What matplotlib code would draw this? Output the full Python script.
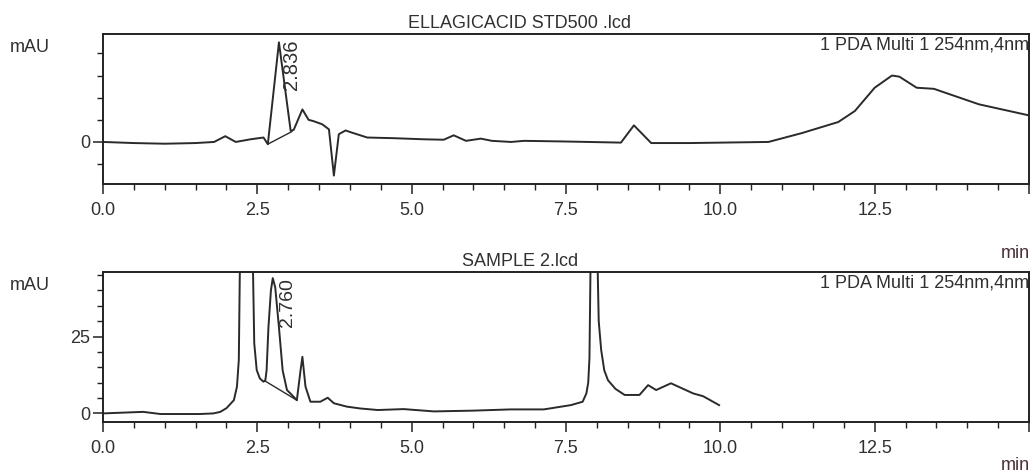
import matplotlib
matplotlib.use("Agg")
import matplotlib.pyplot as plt
from matplotlib.ticker import MultipleLocator, FixedLocator, FixedFormatter

plt.rcParams['font.family'] = ['Liberation Sans', 'DejaVu Sans']

# ---------------- data ----------------
std_title = "ELLAGICACID STD500 .lcd"
smp_title = "SAMPLE 2.lcd"
channel_label = "1 PDA Multi 1 254nm,4nm"

std_time = [0, 0.5, 1.0, 1.5, 1.8, 1.98, 2.15, 2.39, 2.6, 2.67, 2.85, 3.04, 3.09,
            3.23, 3.33, 3.41, 3.55, 3.66, 3.74, 3.82, 3.93, 4.0, 4.28, 4.71, 5.2,
            5.52, 5.68, 5.88, 6.12, 6.3, 6.61, 6.82, 7.5, 8.39, 8.6, 8.88, 9.5,
            10.78, 11.32, 11.91, 12.18, 12.5, 12.78, 12.9, 13.18, 13.46, 14.19, 15.0]
std_signal = [0, -0.05, -0.08, -0.05, 0, 0.26, 0, 0.12, 0.2, -0.1, 4.5, 0.5, 0.55,
              1.47, 1.0, 0.94, 0.8, 0.57, -1.52, 0.35, 0.52, 0.45, 0.2, 0.17, 0.12,
              0.1, 0.3, 0.05, 0.15, 0.05, 0, 0.05, 0.02, -0.03, 0.75, -0.05, -0.05,
              0, 0.4, 0.9, 1.4, 2.45, 3.0, 2.95, 2.45, 2.4, 1.7, 1.2]
std_base_time = [2.67, 3.06]
std_base_signal = [-0.1, 0.47]
std_peak_rt = 2.836
std_peak_label = "2.836"

smp_time = [0, 0.65, 0.93, 1.57, 1.79, 1.9, 2.0, 2.12, 2.17, 2.2, 2.23, 2.32,
            2.41, 2.45, 2.49, 2.54, 2.6, 2.63, 2.65, 2.68, 2.72, 2.75, 2.79,
            2.85, 2.91, 2.98, 3.06, 3.14, 3.2, 3.23, 3.28, 3.36, 3.52, 3.64,
            3.74, 3.95, 4.17, 4.45, 4.87, 5.36, 6.0, 6.6, 7.14, 7.58, 7.77,
            7.83, 7.86, 7.88, 7.91, 7.95, 7.99, 8.03, 8.07, 8.12, 8.18, 8.3,
            8.45, 8.69, 8.83, 8.96, 9.2, 9.56, 9.72, 9.98]
smp_signal = [0, 0.5, -0.2, -0.2, 0, 0.5, 1.7, 4.3, 8.7, 17.4, 70, 200,
              70, 22.8, 14.1, 11.4, 10.3, 10.8, 14, 28, 40, 44, 41,
              28, 14, 7.6, 6.0, 4.3, 14, 18.4, 8.7, 3.8, 3.8, 5.1,
              3.3, 2.2, 1.6, 1.1, 1.4, 0.65, 0.9, 1.3, 1.3, 2.7, 3.8,
              6.5, 10, 18, 70, 150, 70, 30, 20.6, 14, 10.8, 8,
              6.0, 6.0, 9.2, 7.6, 9.8, 6.5, 5.6, 2.7]
smp_base_time = [2.62, 3.14]
smp_base_signal = [10.6, 4.3]
smp_peak_rt = 2.76
smp_peak_label = "2.760"

x_major = [0.0, 2.5, 5.0, 7.5, 10.0, 12.5, 15.0]
x_major_labels = ["0.0", "2.5", "5.0", "7.5", "10.0", "12.5", ""]

# ---------------- figure ----------------
W, H = 1033, 476
fig = plt.figure(figsize=(W / 100, H / 100), dpi=100)

TXT = "#303030"
LINE = "#2a2a2a"
FS = 13

def make_axes(rect):
    ax = fig.add_axes(rect)
    for s in ax.spines.values():
        s.set_color("#222222")
        s.set_linewidth(1.4)
    ax.set_xlim(0, 15)
    ax.xaxis.set_major_locator(FixedLocator(x_major))
    ax.xaxis.set_major_formatter(FixedFormatter(x_major_labels))
    ax.xaxis.set_minor_locator(MultipleLocator(0.5))
    ax.tick_params(axis='both', which='major', direction='out', length=7, width=1.1,
                   color="#222222", labelsize=FS, labelcolor=TXT, pad=6)
    ax.tick_params(axis='both', which='minor', direction='out', length=4, width=1.0,
                   color="#222222")
    ax.tick_params(axis='y', which='major', pad=2)
    return ax

# top panel
ax1 = make_axes([103 / W, 1 - 184 / H, (1029 - 103) / W, (184 - 33.5) / H])
ax1.plot(std_time, std_signal, color=LINE, lw=1.4)
ax1.plot(std_base_time, std_base_signal, color=LINE, lw=1.0)
ax1.set_ylim(-1.9, 4.9)
ax1.yaxis.set_major_locator(FixedLocator([0]))
ax1.yaxis.set_major_formatter(FixedFormatter(["0"]))
ax1.yaxis.set_minor_locator(FixedLocator([-1, 1, 2, 3, 4]))
ax1.text(std_peak_rt + 0.22, 4.62, std_peak_label, rotation=90, ha='center', va='top',
         fontsize=14.5, color=TXT)
ax1.text(1.0, 0.923, channel_label, transform=ax1.transAxes, ha='right', va='center',
         fontsize=FS, color=TXT)

# bottom panel
ax2 = make_axes([103 / W, 1 - 421.7 / H, (1029 - 103) / W, (421.7 - 271.7) / H])
ax2.plot(smp_time, smp_signal, color=LINE, lw=1.4)
ax2.plot(smp_base_time, smp_base_signal, color=LINE, lw=1.0)
ax2.set_ylim(-2.7, 46.1)
ax2.yaxis.set_major_locator(FixedLocator([0, 25]))
ax2.yaxis.set_major_formatter(FixedFormatter(["0", "25"]))
ax2.yaxis.set_minor_locator(FixedLocator([5, 10, 15, 20, 30, 35, 40, 45]))
ax2.text(smp_peak_rt + 0.23, 44.0, smp_peak_label, rotation=90, ha='center', va='top',
         fontsize=14, color=TXT)
ax2.text(1.0, 0.924, channel_label, transform=ax2.transAxes, ha='right', va='center',
         fontsize=FS, color=TXT)

# titles & labels (figure coordinates)
fig.text(519.5 / W, 1 - 24 / H, std_title, ha='center', va='center', fontsize=FS, color=TXT)
fig.text(520 / W, 1 - 262 / H, smp_title, ha='center', va='center', fontsize=FS, color=TXT)
fig.text(10 / W, 1 - 48 / H, "mAU", ha='left', va='center', fontsize=FS, color=TXT)
fig.text(10 / W, 1 - 285 / H, "mAU", ha='left', va='center', fontsize=FS, color=TXT)
fig.text(1015 / W, 1 - 254 / H, "min", ha='center', va='center', fontsize=FS, color="#4a2f38")
fig.text(1015 / W, 1 - 466 / H, "min", ha='center', va='center', fontsize=FS, color="#4a2f38")

fig.savefig("out.png", dpi=100)
